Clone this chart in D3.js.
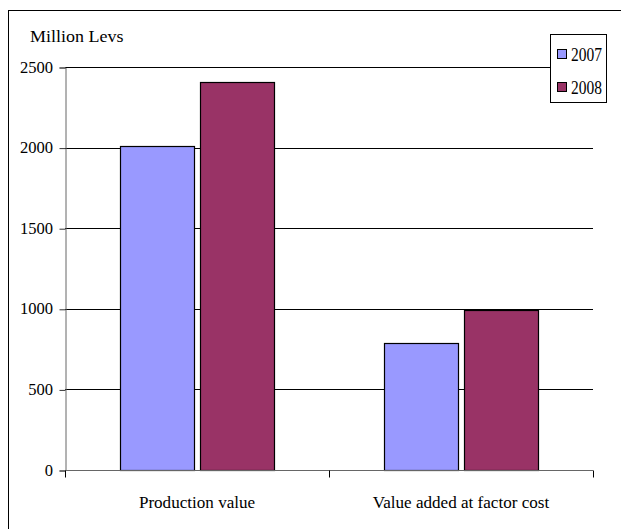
<!DOCTYPE html>
<html><head><meta charset="utf-8">
<script src="https://cdn.jsdelivr.net/npm/d3@7"></script>
<style>body{margin:0;background:#fff}svg{display:block}</style>
</head><body>
<script>
const categories = ["Production value", "Value added at factor cost"];
const seriesNames = ["2007", "2008"];
const values2007 = [2010, 785];
const values2008 = [2405, 990];
const yTicks = [0, 500, 1000, 1500, 2000, 2500];
const colors = ["#9999FF", "#993366"];

const W = 621, H = 529;
const FF = "'Liberation Serif','Times New Roman',Times,serif";
const svg = d3.select("body").append("svg").attr("width", W).attr("height", H);

function label(sel) {
  return sel.style("font-family", FF).style("font-size", "18px").attr("fill", "#000");
}

// outer frame
svg.append("rect").attr("x", 8.5).attr("y", 10.5).attr("width", 700).attr("height", 700)
  .attr("fill", "none").attr("stroke", "#000").attr("stroke-width", 1);

const pL = 65, pR = 593, pT = 67, pB = 470;
const y = d3.scaleLinear().domain([0, 2500]).range([pB, pT]);
const x0 = d3.scaleBand().domain(categories).range([pL, pR]).paddingInner(0).paddingOuter(0);
const x1 = d3.scaleBand().domain(seriesNames).range([55, 264 - 55]).paddingInner(0.08);

// gridlines
svg.append("g").selectAll("line").data(yTicks.filter(d => d > 0)).join("line")
  .attr("x1", pL).attr("x2", pR)
  .attr("y1", d => Math.round(y(d)) + 0.5).attr("y2", d => Math.round(y(d)) + 0.5)
  .attr("stroke", "#000").attr("stroke-width", 1);

// bars
const data = categories.map((c, i) => ({c, vals: [values2007[i], values2008[i]]}));
const g = svg.append("g").selectAll("g").data(data).join("g")
  .attr("transform", d => `translate(${x0(d.c)},0)`);
g.selectAll("rect").data(d => d.vals.map((v, j) => ({v, s: seriesNames[j], j}))).join("rect")
  .attr("x", d => Math.round(x1(d.s)) + 0.5)
  .attr("y", d => Math.round(y(d.v)) + 0.5)
  .attr("width", d => Math.round(x1.bandwidth()))
  .attr("height", d => Math.round(pB - y(d.v)))
  .attr("fill", d => colors[d.j]).attr("stroke", "#000").attr("stroke-width", 1.2);

// y axis (line + ticks from d3 axis, labels drawn separately)
const yAxis = d3.axisLeft(y).tickValues(yTicks).tickSize(6).tickFormat("");
const ya = svg.append("g").attr("transform", `translate(${pL + 0.5},0.5)`).call(yAxis);
ya.select(".domain").attr("stroke", "#666");
ya.selectAll(".tick line").attr("stroke", "#333");
label(svg.append("g").selectAll("text").data(yTicks).join("text")
  .attr("transform", d => `translate(53,${y(d) + 5.5}) scale(0.92,0.95)`)
  .attr("text-anchor", "end").text(d => d3.format("d")(d)));

// x axis
const xAxisLine = svg.append("g").attr("transform", `translate(0,${pB + 0.5})`);
xAxisLine.append("line").attr("x1", pL).attr("x2", pR).attr("stroke", "#666");
const xTickPos = [pL, pL + x0.bandwidth(), pR];
xAxisLine.selectAll("line.t").data(xTickPos).join("line").attr("class", "t")
  .attr("x1", d => d + 0.5).attr("x2", d => d + 0.5).attr("y1", 0).attr("y2", 7).attr("stroke", "#000");
label(svg.append("g").selectAll("text").data(categories).join("text")
  .attr("transform", d => `translate(${x0(d) + x0.bandwidth() / 2},508) scale(0.95,0.97)`)
  .attr("text-anchor", "middle").text(d => d));

// axis title
label(svg.append("text").attr("transform", "translate(30,42) scale(1,0.97)").text("Million Levs"));

// legend
const lg = svg.append("g");
lg.append("rect").attr("x", 550.5).attr("y", 34.5).attr("width", 56).attr("height", 68)
  .attr("fill", "#fff").attr("stroke", "#000");
const items = lg.selectAll("g").data(seriesNames).join("g")
  .attr("transform", (d, i) => `translate(557,${49 + i * 33})`);
items.append("rect").attr("x", 0.5).attr("y", 0.5).attr("width", 9).attr("height", 9)
  .attr("fill", (d, i) => colors[i]).attr("stroke", "#000");
label(items.append("text").attr("transform", "translate(14,12) scale(0.86,1)").text(d => d));
</script>
</body></html>
